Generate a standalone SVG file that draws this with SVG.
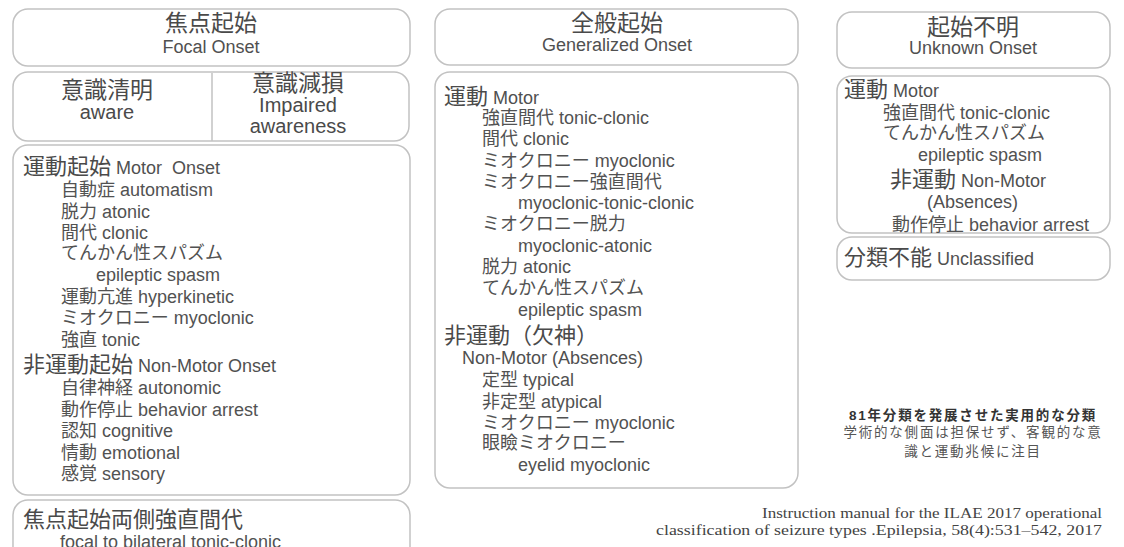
<svg xmlns="http://www.w3.org/2000/svg" width="1124" height="547" viewBox="0 0 1124 547">
<style>
.box{fill:#fff;stroke:#c2c2c2;stroke-width:1.5}
text{font-family:"Liberation Sans","Noto Sans CJK JP",sans-serif;fill:#4a4a4a}
.h{font-size:23px}
.he{font-size:18px;fill:#505050}
.j{font-size:22px}
.i{font-size:18px;fill:#525252}
.c{text-anchor:middle}
.note{font-size:13.5px;letter-spacing:1.8px;text-anchor:middle;fill:#555}
.nb{font-weight:bold;fill:#333}
.cite{font-family:"Liberation Serif","Noto Serif",serif;font-size:14.5px;text-anchor:end;fill:#444}
</style>
<rect width="1124" height="547" fill="#fff"/>

<g id="focal-title">
<rect class="box" x="13" y="9" width="397" height="57" rx="15"/>
<text class="h c" x="211" y="31">焦点起始</text>
<text class="he c" x="211" y="53">Focal Onset</text>
</g>

<g id="awareness">
<rect class="box" x="13" y="72" width="396" height="69" rx="15"/>
<line x1="212" y1="73" x2="212" y2="141" stroke="#c2c2c2" stroke-width="1.5"/>
<text class="h c" x="107" y="98">意識清明</text>
<text class="c" x="107" y="119" font-size="20" fill="#505050">aware</text>
<text class="h c" x="298" y="91">意識減損</text>
<text class="c" x="298" y="112" font-size="20" fill="#505050">Impaired</text>
<text class="c" x="298" y="133" font-size="20" fill="#505050">awareness</text>
</g>

<g id="focal-list">
<rect class="box" x="13" y="145" width="397" height="350" rx="15"/>
<text x="23" y="174"><tspan class="j">運動起始</tspan><tspan class="he"> Motor&#160; Onset</tspan></text>
<text class="i" x="61" y="196">自動症 automatism</text>
<text class="i" x="61" y="218">脱力 atonic</text>
<text class="i" x="61" y="239">間代 clonic</text>
<text class="i" x="61" y="259">てんかん性スパズム</text>
<text class="i" x="96" y="281">epileptic spasm</text>
<text class="i" x="61" y="303">運動亢進 hyperkinetic</text>
<text class="i" x="61" y="324">ミオクロニー myoclonic</text>
<text class="i" x="61" y="346">強直 tonic</text>
<text x="23" y="372"><tspan class="j">非運動起始</tspan><tspan class="he"> Non-Motor Onset</tspan></text>
<text class="i" x="61" y="394">自律神経 autonomic</text>
<text class="i" x="61" y="416">動作停止 behavior arrest</text>
<text class="i" x="61" y="437">認知 cognitive</text>
<text class="i" x="61" y="459">情動 emotional</text>
<text class="i" x="61" y="480">感覚 sensory</text>
</g>

<g id="focal-bilateral">
<rect class="box" x="13" y="500" width="397" height="70" rx="15"/>
<text class="j" x="23" y="527">焦点起始両側強直間代</text>
<text class="i" x="60" y="548">focal to bilateral tonic-clonic</text>
</g>

<g id="generalized-title">
<rect class="box" x="435" y="9" width="363" height="56" rx="15"/>
<text class="h c" x="617" y="31">全般起始</text>
<text class="he c" x="617" y="51">Generalized Onset</text>
</g>

<g id="generalized-list">
<rect class="box" x="435" y="72" width="363" height="416" rx="15"/>
<text x="444" y="104"><tspan class="j">運動</tspan><tspan class="he"> Motor</tspan></text>
<text class="i" x="482" y="124">強直間代 tonic-clonic</text>
<text class="i" x="482" y="145">間代 clonic</text>
<text class="i" x="482" y="167">ミオクロニー myoclonic</text>
<text class="i" x="482" y="188">ミオクロニー強直間代</text>
<text class="i" x="518" y="209">myoclonic-tonic-clonic</text>
<text class="i" x="482" y="230">ミオクロニー脱力</text>
<text class="i" x="518" y="252">myoclonic-atonic</text>
<text class="i" x="482" y="273">脱力 atonic</text>
<text class="i" x="482" y="294">てんかん性スパズム</text>
<text class="i" x="518" y="316">epileptic spasm</text>
<text class="j" x="444" y="343">非運動（欠神）</text>
<text class="he" x="462" y="364">Non-Motor (Absences)</text>
<text class="i" x="482" y="386">定型 typical</text>
<text class="i" x="482" y="408">非定型 atypical</text>
<text class="i" x="482" y="429">ミオクロニー myoclonic</text>
<text class="i" x="482" y="449">眼瞼ミオクロニー</text>
<text class="i" x="518" y="471">eyelid myoclonic</text>
</g>

<g id="unknown-title">
<rect class="box" x="837" y="12" width="273" height="56" rx="15"/>
<text class="h c" x="973" y="35">起始不明</text>
<text class="he c" x="973" y="54">Unknown Onset</text>
</g>

<g id="unknown-list">
<rect class="box" x="837" y="76" width="273" height="157" rx="15"/>
<text x="844" y="97"><tspan class="j">運動</tspan><tspan class="he"> Motor</tspan></text>
<text class="i" x="883" y="119">強直間代 tonic-clonic</text>
<text class="i" x="883" y="139">てんかん性スパズム</text>
<text class="i" x="918" y="161">epileptic spasm</text>
<text x="890" y="187"><tspan class="j">非運動</tspan><tspan class="he"> Non-Motor</tspan></text>
<text class="he" x="927" y="208">(Absences)</text>
<text class="i" x="892" y="231">動作停止 behavior arrest</text>
</g>

<g id="unclassified">
<rect class="box" x="837" y="237" width="273" height="43" rx="15"/>
<text x="844" y="265"><tspan class="j">分類不能</tspan><tspan class="he"> Unclassified</tspan></text>
</g>

<g id="note">
<text class="note nb" x="973" y="420">81年分類を発展させた実用的な分類</text>
<text class="note" x="973" y="437">学術的な側面は担保せず、客観的な意</text>
<text class="note" x="973" y="456">識と運動兆候に注目</text>
</g>

<g id="citation">
<text class="cite" x="1102" y="518" textLength="340" lengthAdjust="spacingAndGlyphs">Instruction manual for the ILAE 2017 operational</text>
<text class="cite" x="1102" y="535" textLength="446" lengthAdjust="spacingAndGlyphs">classification of seizure types .Epilepsia, 58(4):531–542, 2017</text>
</g>

<g id="connectors"></g>
</svg>
